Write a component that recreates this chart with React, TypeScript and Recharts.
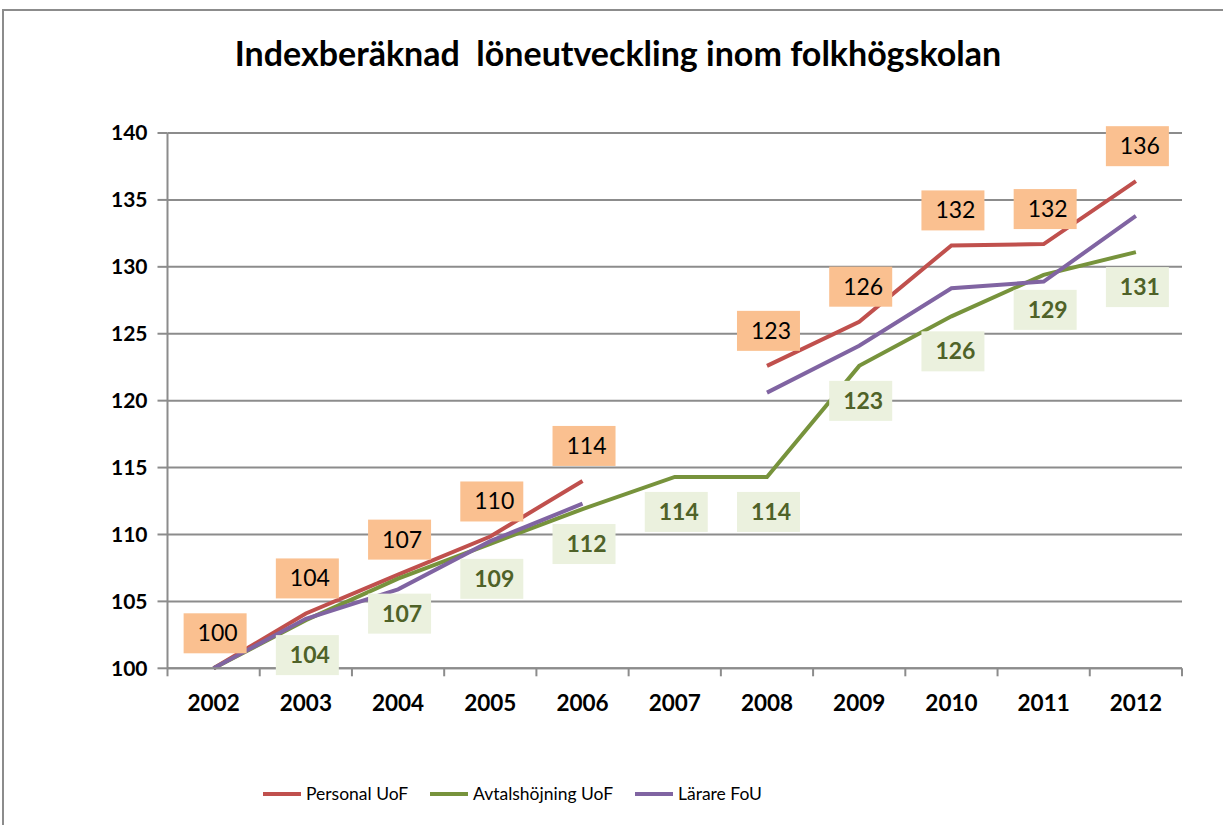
import { LineChart, Line, XAxis, YAxis, CartesianGrid, Legend, LabelList } from 'recharts'

const years = ['2002', '2003', '2004', '2005', '2006', '2007', '2008', '2009', '2010', '2011', '2012']
const personalUoF = [100, 104.1, 107.0, 109.85, 114.0, null, 122.6, 125.9, 131.6, 131.7, 136.4]
const avtalshojningUoF = [100, 103.6, 106.7, 109.3, 111.9, 114.3, 114.3, 122.6, 126.3, 129.4, 131.1]
const larareFoU = [100, 103.7, 105.9, 109.5, 112.3, null, 120.6, 124.1, 128.4, 128.9, 133.8]
const yTicks = [100, 105, 110, 115, 120, 125, 130, 135, 140]

const data = years.map((year, i) => ({
  year,
  personal: personalUoF[i],
  avtal: avtalshojningUoF[i],
  larare: larareFoU[i]
}))

const FONT = 'Lato, "Liberation Sans", sans-serif'
const PLOT_LEFT = 167.5
const PLOT_RIGHT = 1182
const HALF_BAND = (PLOT_RIGHT - PLOT_LEFT) / years.length / 2

const series = [
  { key: 'personal', name: 'Personal UoF', color: '#C0504D' },
  { key: 'avtal', name: 'Avtalshöjning UoF', color: '#77933C' },
  { key: 'larare', name: 'Lärare FoU', color: '#8064A2' }
]

function YearTick(props: any) {
  const { x, y, payload, index } = props
  return (
    <g>
      <line x1={x - HALF_BAND} y1={y} x2={x - HALF_BAND} y2={y + 8} stroke="#8c8c8c" strokeWidth={2} />
      {index === years.length - 1 && (
        <line x1={x + HALF_BAND} y1={y} x2={x + HALF_BAND} y2={y + 8} stroke="#8c8c8c" strokeWidth={2} />
      )}
      <text x={x} y={y + 43} textAnchor="middle" fontFamily={FONT} fontWeight={700} fontSize={22.5} fill="#000">
        {payload.value}
      </text>
    </g>
  )
}

function PersonalLabel(props: any) {
  const { x, y, value } = props
  if (value == null) return null
  const cy = y - 35
  return (
    <g>
      <rect x={x - 30} y={cy - 20} width={63} height={40} fill="#FAC090" />
      <text x={x + 4} y={cy + 8} textAnchor="middle" fontFamily={FONT} fontSize={23} fill="#000">
        {Math.round(value)}
      </text>
    </g>
  )
}

function AvtalLabel(props: any) {
  const { x, y, value, index } = props
  if (value == null || index === 0) return null
  const cy = y + 35
  return (
    <g>
      <rect x={x - 30} y={cy - 20} width={63} height={40} fill="#EBF1DE" />
      <text x={x + 4} y={cy + 8} textAnchor="middle" fontFamily={FONT} fontWeight={700} fontSize={23} fill="#4F6228">
        {Math.round(value)}
      </text>
    </g>
  )
}

function LegendContent() {
  return (
    <div style={{ height: 60, position: 'relative', fontFamily: FONT, fontSize: 17.5, color: '#000' }}>
      {series.map((s, i) => (
        <div
          key={s.key}
          style={{ display: 'flex', alignItems: 'center', position: 'absolute', top: 18, left: [263, 430, 635][i] }}
        >
          <span style={{ display: 'inline-block', width: 38, height: 4, background: s.color, marginRight: 5 }} />
          <span>{s.name}</span>
        </div>
      ))}
    </div>
  )
}

export default function App() {
  return (
    <div style={{ position: 'absolute', left: 0, top: 0, width: 1223, height: 825, overflow: 'hidden', background: '#fff' }}>
      <div style={{ position: 'absolute', left: 2, top: 9, width: 1260, height: 860, border: '2px solid #8c8c8c' }} />
      <div
        style={{
          position: 'absolute',
          left: 0,
          top: 33,
          width: 1236,
          textAlign: 'center',
          fontFamily: FONT,
          fontWeight: 700,
          fontSize: 34,
          lineHeight: '40px',
          color: '#000',
          whiteSpace: 'pre'
        }}
      >
        {'Indexberäknad  löneutveckling inom folkhögskolan'}
      </div>
      <div style={{ position: 'absolute', left: 0, top: 0 }}>
        <LineChart width={1223} height={825} data={data} margin={{ top: 133, right: 1223 - PLOT_RIGHT, bottom: 0, left: 0 }}>
          <CartesianGrid vertical={false} stroke="#8c8c8c" strokeWidth={2} />
          <XAxis
            dataKey="year"
            height={96.7}
            padding={{ left: HALF_BAND, right: HALF_BAND }}
            stroke="#8c8c8c"
            strokeWidth={2}
            tickLine={false}
            tickSize={0}
            tickMargin={0}
            tick={<YearTick />}
            interval={0}
          />
          <YAxis
            width={PLOT_LEFT}
            domain={[100, 140]}
            ticks={yTicks}
            interval={0}
            stroke="#8c8c8c"
            strokeWidth={2}
            tickSize={10}
            tickMargin={10}
            tick={{ fontFamily: FONT, fontWeight: 700, fontSize: 21, fill: '#000' }}
          />
          <Legend verticalAlign="bottom" height={60} content={<LegendContent />} />
          <Line type="linear" dataKey="personal" name="Personal UoF" stroke="#C0504D" strokeWidth={4} dot={false} isAnimationActive={false}>
            <LabelList dataKey="personal" content={<PersonalLabel />} />
          </Line>
          <Line type="linear" dataKey="avtal" name="Avtalshöjning UoF" stroke="#77933C" strokeWidth={4} dot={false} isAnimationActive={false}>
            <LabelList dataKey="avtal" content={<AvtalLabel />} />
          </Line>
          <Line type="linear" dataKey="larare" name="Lärare FoU" stroke="#8064A2" strokeWidth={4} dot={false} isAnimationActive={false} />
        </LineChart>
      </div>
    </div>
  )
}
